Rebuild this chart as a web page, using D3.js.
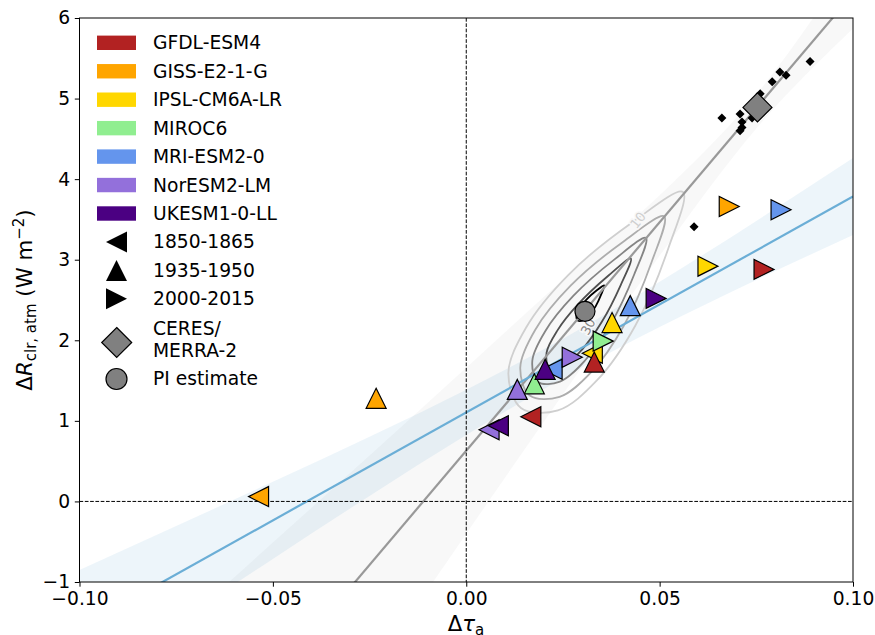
<!DOCTYPE html>
<html><head><meta charset="utf-8">
<script src="https://cdn.jsdelivr.net/npm/d3@7"></script>
<style>body{margin:0;background:#fff}svg text{font-family:"DejaVu Sans",sans-serif}</style>
</head><body>
<svg id="chart" width="875" height="635"></svg>
<script>
// ---------------- data ----------------
const models = ["GFDL-ESM4","GISS-E2-1-G","IPSL-CM6A-LR","MIROC6","MRI-ESM2-0","NorESM2-LM","UKESM1-0-LL"];
const modelColors = ["#b22222","#ffa500","#ffd700","#90ee90","#6495ed","#9370db","#4b0082"];
const periods = ["1850-1865","1935-1950","2000-2015"];
const periodShapes = ["left","up","right"];
// Δτa and ΔR for each model (null = not visible)
const tau1850 = [0.0167, -0.0537, 0.0326, null, 0.0222, 0.0059, 0.0083];
const R1850   = [1.05,    0.06,   1.84,   null, 1.64,   0.89,   0.94];
const tau1935 = [0.0331, -0.0233, 0.0377, 0.0176, 0.0424, 0.0132, 0.0204];
const R1935   = [1.73,    1.28,   2.22,   1.46,   2.43,   1.39,   1.64];
const tau2000 = [0.0770, 0.0680, 0.0625, 0.0354, 0.0814, 0.0274, 0.0491];
const R2000   = [2.88,   3.66,   2.92,   1.99,   3.62,   1.79,   2.52];
// observations (small black diamonds)
const obsTau = [0.0889,0.0811,0.0827,0.0791,0.0760,0.0661,0.0708,0.0713,0.0713,0.0708,0.0739,0.0589];
const obsR   = [5.46,  5.33,  5.29,  5.21,  5.06,  4.76,  4.81,  4.71,  4.64,  4.60,  4.76,  3.41];
const ceresTau = 0.0753, ceresR = 4.89;
const piTau = 0.0307, piR = 2.36;
// fit lines (end points) and confidence bands
const grayFitX = [-0.1, 0.1], grayFitY = [-5.04, 6.30];
const blueFitX = [-0.1, 0.1], blueFitY = [-1.575, 3.785];
const bandX  = [-0.1, -0.075, -0.05, -0.025, 0, 0.025, 0.05, 0.075, 0.1];
const grayLo = [-7.41, -5.65, -3.91, -2.15, -0.40, 1.33, 3.05, 4.63, 5.87];
const grayHi = [-2.67, -1.59, -0.51, 0.57, 1.66, 2.75, 3.80, 5.05, 6.73];
const blueLo = [-2.30, -1.505, -0.713, 0.068, 0.824, 1.53, 2.164, 2.748, 3.307];
const blueHi = [-0.85, -0.305, 0.243, 0.802, 1.386, 2.02, 2.726, 3.482, 4.263];
// KDE contours (outer to inner)
const contourColors = ["#cfcfcf","#adadad","#858585","#505050","#000000"];
const contour1 = [[0.05604,3.840],[0.05224,3.140],[0.04377,2.187],[0.03377,1.501],[0.02370,1.130],[0.01416,1.160],[0.01089,1.591],[0.01549,2.159],[0.02643,2.813],[0.04309,3.469]];
const contour2 = [[0.05118,3.538],[0.04786,2.963],[0.04070,2.177],[0.03238,1.608],[0.02412,1.298],[0.01643,1.314],[0.01397,1.663],[0.01785,2.131],[0.02692,2.674],[0.04060,3.224]];
const contour3 = [[0.04648,3.270],[0.04345,2.820],[0.03736,2.202],[0.03064,1.746],[0.02422,1.487],[0.01855,1.482],[0.01708,1.746],[0.02042,2.113],[0.02767,2.550],[0.03834,3.004]];
const contour4 = [[0.04255,3.014],[0.03994,2.686],[0.03506,2.229],[0.02995,1.885],[0.02528,1.683],[0.02145,1.664],[0.02077,1.846],[0.02350,2.117],[0.02893,2.448],[0.03672,2.801]];
const contour5 = [[0.03567,2.681],[0.03492,2.572],[0.03345,2.421],[0.03179,2.309],[0.03021,2.246],[0.02884,2.244],[0.02848,2.309],[0.02931,2.398],[0.03107,2.505],[0.03368,2.617]];
const contourLabelText = ["10","30"];
const contourLabelTau = [0.0444, 0.0315];
const contourLabelR = [3.49, 2.17];
const xTicks = [-0.10, -0.05, 0.00, 0.05, 0.10];
const yTicks = [-1, 0, 1, 2, 3, 4, 5, 6];

// ---------------- drawing ----------------
const svg = d3.select("#chart");
const L = 79.5, R = 853, T = 18, B = 582;
const x = d3.scaleLinear().domain([-0.1, 0.1]).range([L, R]);
const y = d3.scaleLinear().domain([-1, 6]).range([B, T]);
const fs = 18.7;

svg.append("defs").append("clipPath").attr("id","clip")
  .append("rect").attr("x",L).attr("y",T).attr("width",R-L).attr("height",B-T);
const plot = svg.append("g").attr("clip-path","url(#clip)");

const area = (lo, hi) => d3.area().x((d,i)=>x(bandX[i])).y0((d,i)=>y(lo[i])).y1((d,i)=>y(hi[i])).curve(d3.curveMonotoneX)(bandX);
plot.append("path").attr("d", area(grayLo, grayHi)).attr("fill","#808080").attr("fill-opacity",0.06);
plot.append("path").attr("d", area(blueLo, blueHi)).attr("fill","#6baed6").attr("fill-opacity",0.12);

// contours
const cline = d3.line().x(d=>x(d[0])).y(d=>y(d[1])).curve(d3.curveCatmullRomClosed.alpha(0.5));
[contour1, contour2, contour3, contour4, contour5].forEach((c,i)=>{
  plot.append("path").attr("d", cline(c)).attr("fill","none")
    .attr("stroke", contourColors[i]).attr("stroke-width",1.8);
});
contourLabelText.forEach((t,i)=>{
  plot.append("text").attr("transform",`translate(${x(contourLabelTau[i])},${y(contourLabelR[i])}) rotate(${i===0?-52:-62})`)
    .attr("text-anchor","middle").attr("dy","0.35em").attr("font-size",13)
    .attr("fill", i===0 ? "#cfcfcf" : "#858585")
    .attr("stroke","#f8f8f8").attr("stroke-width",3).attr("paint-order","stroke")
    .text(t);
});

// fit lines
const lineGen = d3.line().x(d=>x(d[0])).y(d=>y(d[1]));
plot.append("path").attr("d", lineGen(grayFitX.map((v,i)=>[v,grayFitY[i]])))
  .attr("stroke","#999999").attr("stroke-width",2.2).attr("fill","none");
plot.append("path").attr("d", lineGen(blueFitX.map((v,i)=>[v,blueFitY[i]])))
  .attr("stroke","#6baed6").attr("stroke-width",2.2).attr("fill","none");

// zero lines
plot.append("line").attr("x1",x(0)).attr("x2",x(0)).attr("y1",T).attr("y2",B)
  .attr("stroke","#000").attr("stroke-width",1).attr("stroke-dasharray","3.7,1.6");
plot.append("line").attr("x1",L).attr("x2",R).attr("y1",y(0)).attr("y2",y(0))
  .attr("stroke","#000").attr("stroke-width",1).attr("stroke-dasharray","3.7,1.6");

// marker helpers
function tri(dir, s){
  const h = s/2;
  if(dir==="up") return `M0,${-h}L${h},${h}L${-h},${h}Z`;
  if(dir==="left") return `M${-h},0L${h},${-h}L${h},${h}Z`;
  return `M${h},0L${-h},${h}L${-h},${-h}Z`;
}
function diamond(h){ return `M0,${-h}L${h},0L0,${h}L${-h},0Z`; }

// observations
obsTau.forEach((t,i)=>{
  plot.append("path").attr("d", diamond(4.5)).attr("transform",`translate(${x(t)},${y(obsR[i])})`).attr("fill","#000");
});
plot.append("path").attr("d", diamond(14.5)).attr("transform",`translate(${x(ceresTau)},${y(ceresR)})`)
  .attr("fill","#808080").attr("stroke","#000").attr("stroke-width",1.2);

// model triangles, by period
const tauSets = [tau1850, tau1935, tau2000], RSets = [R1850, R1935, R2000];
periods.forEach((p,pi)=>{
  models.forEach((m,mi)=>{
    const t = tauSets[pi][mi], r = RSets[pi][mi];
    if(t===null) return;
    plot.append("path").attr("d", tri(periodShapes[pi], 20))
      .attr("transform",`translate(${x(t)},${y(r)})`)
      .attr("fill", modelColors[mi]).attr("stroke","#000").attr("stroke-width",1.2).attr("stroke-linejoin","miter");
  });
});
plot.append("circle").attr("cx",x(piTau)).attr("cy",y(piR)).attr("r",10)
  .attr("fill","#808080").attr("stroke","#000").attr("stroke-width",1.2);

// axes
const fmt = d => d3.format(".2f")(d).replace("-","\u2212");
const xAxis = svg.append("g").attr("transform",`translate(0,${B})`)
  .call(d3.axisBottom(x).tickValues(xTicks).tickFormat(fmt).tickSize(4.7).tickPadding(4.7).tickSizeOuter(0));
const yAxis = svg.append("g").attr("transform",`translate(${L},0)`)
  .call(d3.axisLeft(y).tickValues(yTicks).tickFormat(d=>String(d).replace("-","\u2212")).tickSize(4.7).tickPadding(4.7).tickSizeOuter(0));
[xAxis,yAxis].forEach(a=>{
  a.select(".domain").remove();
  a.selectAll("text").attr("font-size",fs).attr("font-family","DejaVu Sans").attr("fill","#000");
  a.selectAll("line").attr("stroke","#000").attr("stroke-width",1);
});
svg.append("rect").attr("x",L).attr("y",T).attr("width",R-L).attr("height",B-T)
  .attr("fill","none").attr("stroke","#000").attr("stroke-width",1);

// axis labels
const xl = svg.append("text").attr("x",466).attr("y",631).attr("text-anchor","middle").attr("font-size",21.3);
xl.append("tspan").text("\u0394");
xl.append("tspan").attr("font-style","italic").text("\u03c4");
xl.append("tspan").attr("font-size",15).attr("dy",4).text("a");

const yl = svg.append("text").attr("transform","translate(32,300) rotate(-90)").attr("text-anchor","middle").attr("font-size",21.3);
yl.append("tspan").text("\u0394");
yl.append("tspan").attr("font-style","italic").text("R");
yl.append("tspan").attr("font-size",15).attr("dy",4).text("clr, atm");
yl.append("tspan").attr("dy",-4).text(" (W m");
yl.append("tspan").attr("font-size",15).attr("dy",-8).text("\u22122");
yl.append("tspan").attr("dy",8).text(")");

// legend
const lg = svg.append("g");
const rowY = i => 42.8 + i*28.45;
models.forEach((m,i)=>{
  lg.append("rect").attr("x",97).attr("y",rowY(i)-7.2).attr("width",39).attr("height",14.4).attr("fill",modelColors[i]);
  lg.append("text").attr("x",153).attr("y",rowY(i)).attr("dy","0.35em").attr("font-size",fs).text(m);
});
periods.forEach((p,i)=>{
  const yy = rowY(7+i);
  lg.append("path").attr("d", tri(periodShapes[i], 21)).attr("transform",`translate(116.5,${yy})`).attr("fill","#000");
  lg.append("text").attr("x",153).attr("y",yy).attr("dy","0.35em").attr("font-size",fs).text(p);
});
lg.append("path").attr("d", diamond(15)).attr("transform","translate(116.7,342.5)")
  .attr("fill","#808080").attr("stroke","#000").attr("stroke-width",1.2);
lg.append("text").attr("x",153).attr("y",328).attr("dy","0.35em").attr("font-size",fs).text("CERES/");
lg.append("text").attr("x",153).attr("y",350.5).attr("dy","0.35em").attr("font-size",fs).text("MERRA-2");
lg.append("circle").attr("cx",116.5).attr("cy",379).attr("r",10.5)
  .attr("fill","#808080").attr("stroke","#000").attr("stroke-width",1.2);
lg.append("text").attr("x",153).attr("y",378.5).attr("dy","0.35em").attr("font-size",fs).text("PI estimate");
</script>
</body></html>
